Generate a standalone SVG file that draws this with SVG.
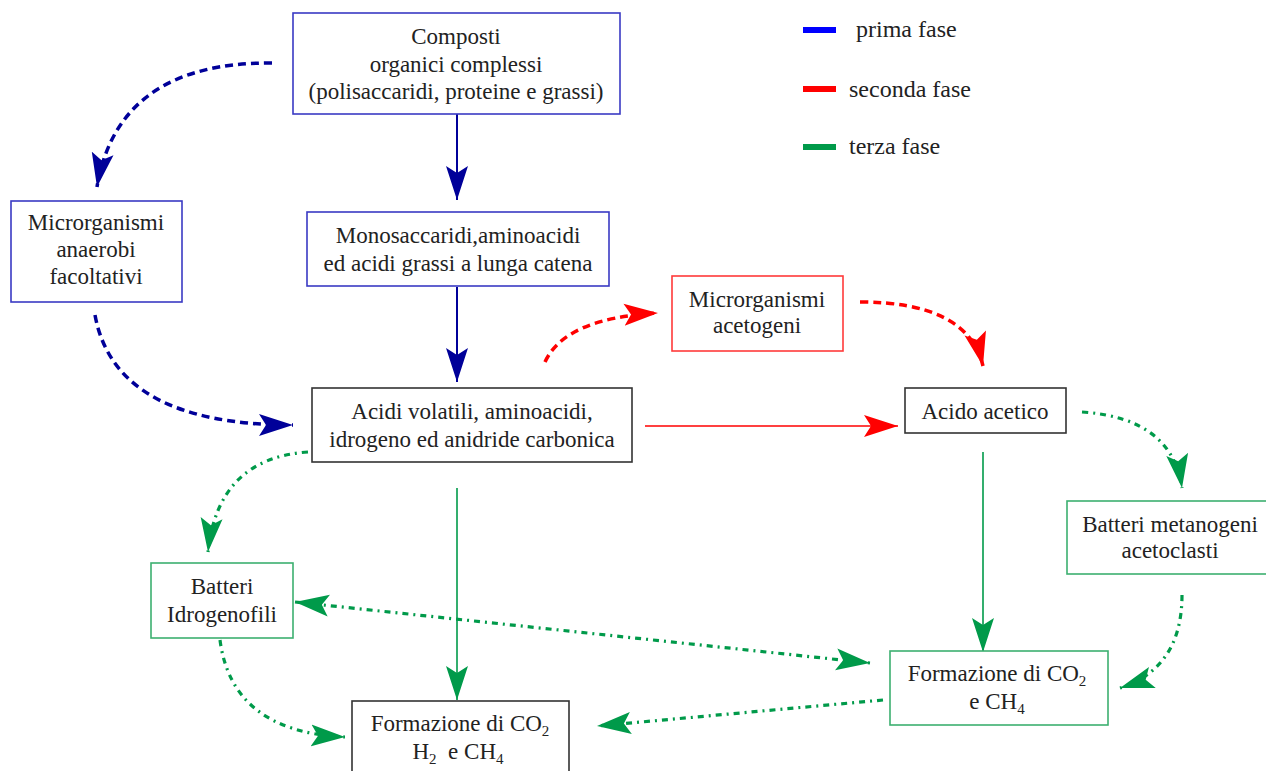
<svg xmlns="http://www.w3.org/2000/svg" width="1266" height="771" viewBox="0 0 1266 771">
<style>
  text { font-family: "Liberation Serif", Tinos, "Times New Roman", "DejaVu Serif", serif; font-size: 23px; fill: #222; text-anchor: middle; }
  .leg { font-size: 24px; text-anchor: start; }
  .box { fill: #fff; stroke-width: 1.6; }
  .bBlue { stroke: #3a3ac4; }
  .bBlack { stroke: #333; }
  .bRed { stroke: #ff3a3a; }
  .bGreen { stroke: #3cb070; }
  .c { fill: none; }
  .navy { stroke: #000099; }
  .red { stroke: #ff0000; }
  .green { stroke: #009a4a; }
  .solidN { stroke-width: 2; marker-end: url(#aN); }
  .dashN { stroke-width: 3.5; stroke-dasharray: 8 5; marker-end: url(#aN); }
  .dashR { stroke-width: 3.5; stroke-dasharray: 8 5; marker-end: url(#aR); }
  .solidR { stroke-width: 1.6; marker-end: url(#aR); }
  .solidG { stroke-width: 1.6; marker-end: url(#aG); }
  .ddG { stroke-width: 3.2; stroke-dasharray: 6 5 2 5; marker-end: url(#aG); }
  .sub { font-size: 15px; }
</style>
<defs>
  <marker id="aN" viewBox="0 0 34 24" refX="34" refY="12" markerWidth="34" markerHeight="24" markerUnits="userSpaceOnUse" orient="auto-start-reverse">
    <path d="M0,1 L34,12 L0,23 L7,12 Z" fill="#000099"/>
  </marker>
  <marker id="aR" viewBox="0 0 34 24" refX="34" refY="12" markerWidth="34" markerHeight="24" markerUnits="userSpaceOnUse" orient="auto-start-reverse">
    <path d="M0,1 L34,12 L0,23 L7,12 Z" fill="#ff0000"/>
  </marker>
  <marker id="aG" viewBox="0 0 34 24" refX="34" refY="12" markerWidth="34" markerHeight="24" markerUnits="userSpaceOnUse" orient="auto-start-reverse">
    <path d="M0,1 L34,12 L0,23 L7,12 Z" fill="#009a4a"/>
  </marker>
</defs>
<rect width="1266" height="771" fill="#fff"/>

<g id="legend">
  <rect x="803" y="27" width="33" height="6" fill="#0000ff"/>
  <text class="leg" x="856" y="37">prima fase</text>
  <rect x="803" y="86" width="33" height="6" fill="#ff0000"/>
  <text class="leg" x="849" y="97">seconda fase</text>
  <rect x="803" y="144" width="33" height="6" fill="#009a4a"/>
  <text class="leg" x="849" y="154">terza fase</text>
</g>

<g id="connectors">
  <path class="c navy solidN" d="M457,114 L457,200"/>
  <path class="c navy solidN" d="M457,287 L457,382"/>
  <path class="c navy dashN" d="M272,63 Q118,62 97,187"/>
  <path class="c navy dashN" d="M95,315 Q115,425 293,425"/>
  <path class="c red dashR" d="M545,362 Q565,318 658,313"/>
  <path class="c red dashR" d="M860,302 Q968,302 983,366"/>
  <path class="c red solidR" d="M645,426 L898,426"/>
  <path class="c green ddG" d="M1082,412 Q1172,418 1182,488"/>
  <path class="c green solidG" d="M983,452 L983,652"/>
  <path class="c green ddG" d="M1182,595 Q1182,668 1120,688"/>
  <path class="c green ddG" d="M308,452 Q218,458 208,552"/>
  <path class="c green solidG" d="M457,488 L457,700"/>
  <path class="c green ddG" d="M295,602 L870,663" marker-start="url(#aG)"/>
  <path class="c green ddG" d="M220,640 Q232,732 345,737"/>
  <path class="c green ddG" d="M883,700 L597,726"/>
</g>

<g id="composti">
  <rect class="box bBlue" x="293" y="13" width="327" height="101"/>
  <text x="456" y="44">Composti</text>
  <text x="456" y="72">organici complessi</text>
  <text x="456" y="99">(polisaccaridi, proteine e grassi)</text>
</g>

<g id="monosaccaridi">
  <rect class="box bBlue" x="307" y="212" width="302" height="74"/>
  <text x="458" y="243">Monosaccaridi,aminoacidi</text>
  <text x="458" y="271">ed acidi grassi a lunga catena</text>
</g>

<g id="anaerobi">
  <rect class="box bBlue" x="11" y="201" width="171" height="101"/>
  <text x="96" y="230">Microrganismi</text>
  <text x="96" y="257">anaerobi</text>
  <text x="96" y="284">facoltativi</text>
</g>

<g id="acidi-volatili">
  <rect class="box bBlack" x="312" y="388" width="320" height="74"/>
  <text x="472" y="419">Acidi volatili, aminoacidi,</text>
  <text x="472" y="447">idrogeno ed anidride carbonica</text>
</g>

<g id="acetogeni">
  <rect class="box bRed" x="672" y="276" width="171" height="75"/>
  <text x="757" y="307">Microrganismi</text>
  <text x="757" y="333">acetogeni</text>
</g>

<g id="acido-acetico">
  <rect class="box bBlack" x="905" y="388" width="161" height="45"/>
  <text x="985" y="419">Acido acetico</text>
</g>

<g id="metanogeni">
  <rect class="box bGreen" x="1067" y="501" width="210" height="73"/>
  <text x="1170" y="532">Batteri metanogeni</text>
  <text x="1170" y="558">acetoclasti</text>
</g>

<g id="idrogenofili">
  <rect class="box bGreen" x="151" y="563" width="142" height="75"/>
  <text x="222" y="594">Batteri</text>
  <text x="222" y="622">Idrogenofili</text>
</g>

<g id="formazione-left">
  <rect class="box bBlack" x="352" y="701" width="217" height="80"/>
  <text x="460" y="731">Formazione di CO<tspan class="sub" dy="5">2</tspan></text>
  <text x="458" y="759" xml:space="preserve">H<tspan class="sub" dy="5">2</tspan><tspan dy="-5">  e CH</tspan><tspan class="sub" dy="5">4</tspan></text>
</g>

<g id="formazione-right">
  <rect class="box bGreen" x="890" y="651" width="218" height="74"/>
  <text x="997" y="681">Formazione di CO<tspan class="sub" dy="5">2</tspan></text>
  <text x="997" y="709">e CH<tspan class="sub" dy="5">4</tspan></text>
</g>
</svg>
